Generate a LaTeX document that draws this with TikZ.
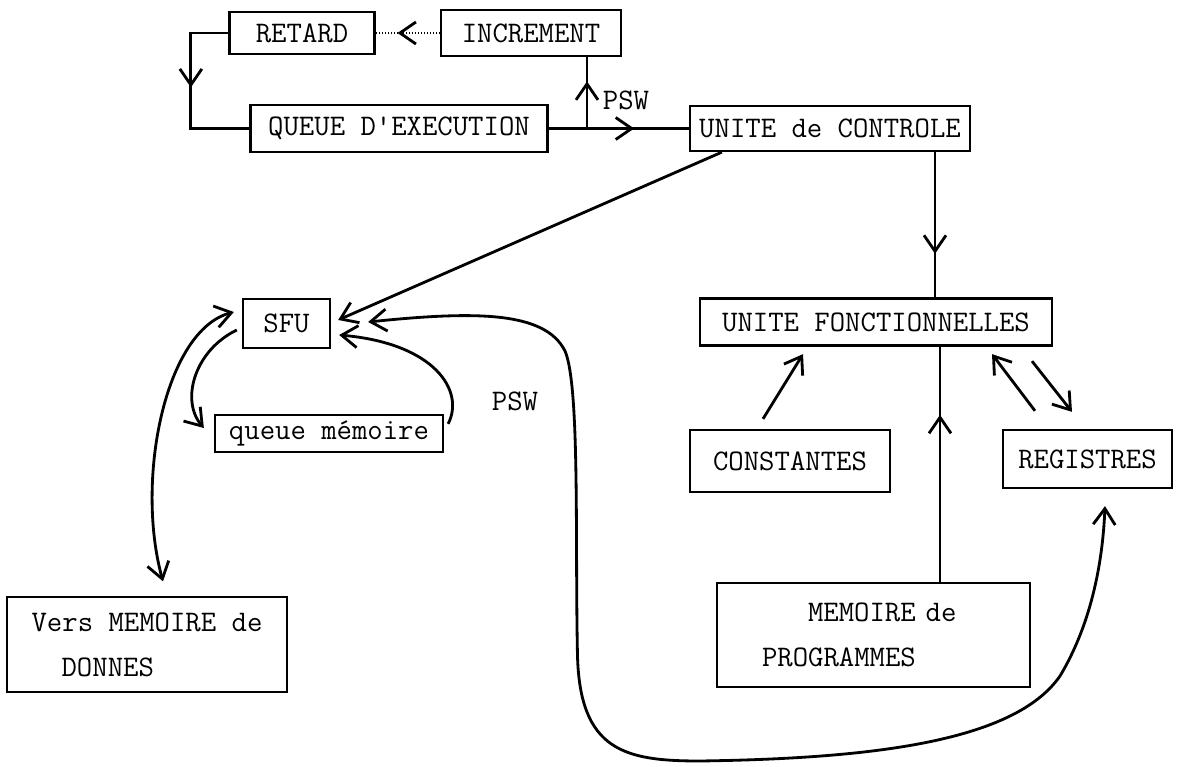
\documentclass[tikz,border=0pt]{standalone}
\usepackage{tikz}
\usetikzlibrary{arrows.meta}
\usetikzlibrary{decorations.markings}
\pgfdeclarelayer{edgelayer}
\pgfdeclarelayer{nodelayer}
\pgfsetlayers{edgelayer,nodelayer,main}
\tikzstyle{box}=[rectangle,fill=white,draw=black,line width=1.3pt,inner sep=0pt,font=\fontsize{17}{25.6}\selectfont\ttfamily]
\tikzstyle{txt}=[inner sep=0pt,font=\fontsize{17}{20}\selectfont\ttfamily]
\tikzstyle{flow}=[line width=1.6pt,draw=black]
\tikzstyle{weak}=[line width=0.7pt,densely dotted,draw=black]
\tikzset{midarrow/.style={postaction={decorate},decoration={markings,mark=at position #1 with {\arrow[line width=1.6pt,solid]{>}}}}}

\begin{document}
\begin{tikzpicture}[>={Straight Barb[length=3.2mm,width=4.4mm]}]
	\useasboundingbox (0, 0) rectangle (23.64, 15.32);
	\begin{pgfonlayer}{nodelayer}
		\node [style=box, minimum width=2.9cm, minimum height=0.84cm] (0) at (6.04, 14.66) {RETARD};
		\node [style=box, minimum width=3.6cm, minimum height=0.92cm] (1) at (10.62, 14.66) {INCREMENT};
		\node [style=box, minimum width=5.94cm, minimum height=0.94cm] (2) at (7.98, 12.75) {QUEUE D\textquotesingle EXECUTION};
		\node [style=box, minimum width=5.6cm, minimum height=0.9cm] (3) at (16.6, 12.75) {UNITE de CONTROLE};
		\node [style=box, minimum width=1.74cm, minimum height=0.98cm] (4) at (5.73, 8.85) {SFU};
		\node [style=box, minimum width=4.56cm, minimum height=0.74cm] (5) at (6.58, 6.65) {queue mémoire};
		\node [style=box, minimum width=7.04cm, minimum height=0.94cm] (6) at (17.52, 8.88) {UNITE FONCTIONNELLES};
		\node [style=box, minimum width=4cm, minimum height=1.24cm] (7) at (15.8, 6.1) {CONSTANTES};
		\node [style=box, minimum width=3.38cm, minimum height=1.16cm] (8) at (21.75, 6.14) {REGISTRES};
		\node [style=box, align=left, minimum width=5.6cm, minimum height=1.9cm] (9) at (2.94, 2.43) {Vers MEMOIRE de\\\hspace*{0.6cm}DONNES};
		\node [style=box, align=left, text width=4.46cm, inner xsep=0.9cm, minimum height=2.08cm] (10) at (17.47, 2.62) {\hspace*{0.92cm}MEMOIRE de\\PROGRAMMES};
		\node [style=txt] (11) at (12.52, 13.32) {PSW};
		\node [style=txt] (12) at (10.3, 7.3) {PSW};
		\coordinate (13) at (11.74, 12.75);
	\end{pgfonlayer}
	\begin{pgfonlayer}{edgelayer}
		\draw [style=weak, midarrow=0.66] (1) to (0);
		\draw [style=flow, midarrow=0.48] (0.west) -- ++(-0.75, 0) |- (2.west);
		\draw [style=flow, midarrow=0.61] (2.east) to (3.west);
		\draw [style=flow, midarrow=0.66] (13) to (13 |- 1.south);
		\draw [style=flow, ->] ([xshift=0.66cm]3.south west) to ([shift={(0.14, 0.07)}]4.east);
		\draw [style=flow, midarrow=0.7] ([xshift=2.1cm]3.south) to ([xshift=2.1cm]3.south |- 6.north);
		\draw [style=flow, ->] ([shift={(-0.54, 0.2)}]7.north) to ([shift={(-1.46, -0.15)}]6.south);
		\draw [style=flow, midarrow=0.71] ([xshift=1.33cm]10.north) to ([xshift=1.33cm]10.north |- 6.south);
		\draw [style=flow, ->] ([shift={(-1.05, 0.36)}]8.north) to ([shift={(2.32, -0.15)}]6.south);
		\draw [style=flow, ->] ([shift={(3.12, -0.29)}]6.south) to ([shift={(-0.31, 0.34)}]8.north);
		\draw [style=flow, <->] ([shift={(0.74, 0.03)}]4.east) .. controls (9.5, 9.1) and (10.9, 9.1) .. (11.3, 8.3) .. controls (11.6, 7.6) and (11.5, 4.5) .. (11.55, 2.2) .. controls (11.6, 0.3) and (12.5, 0.1) .. (14, 0.1) .. controls (17.5, 0.15) and (20.3, 0.5) .. (21.2, 1.8) .. controls (21.8, 2.8) and (22.05, 4) .. ([shift={(0.35, -0.34)}]8.south);
		\draw [style=flow, ->] ([shift={(0.08, -0.2)}]5.north east) .. controls (9.3, 7.5) and (8.7, 8.45) .. ([shift={(0.16, -0.23)}]4.east);
		\draw [style=flow, ->] ([shift={(-0.1, -0.13)}]4.west) .. controls (3.9, 8.32) and (3.6, 7.32) .. ([shift={(-0.2, 0.11)}]5.west);
		\draw [style=flow, <->] ([shift={(-0.16, 0.23)}]4.west) .. controls (3.3, 8.72) and (2.7, 5.72) .. ([shift={(0.32, 0.29)}]9.north);
	\end{pgfonlayer}
\end{tikzpicture}
\end{document}
